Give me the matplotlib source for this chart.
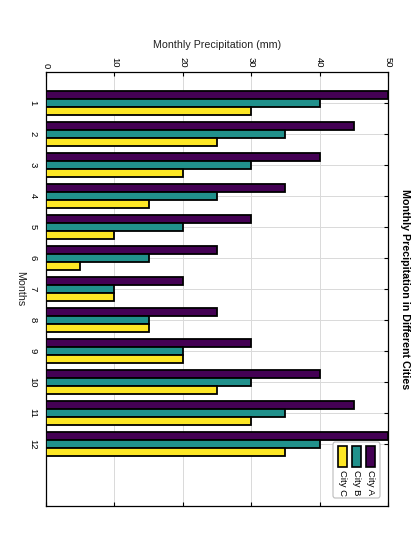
import numpy as np
import matplotlib
matplotlib.use("Agg")
import matplotlib.pyplot as plt
from matplotlib.patches import Rectangle, FancyBboxPatch

plt.rcParams['font.family'] = ['Liberation Sans', 'DejaVu Sans']

# data
months = [1, 2, 3, 4, 5, 6, 7, 8, 9, 10, 11, 12]
city_a = [50, 45, 40, 35, 30, 25, 20, 25, 30, 40, 45, 50]
city_b = [40, 35, 30, 25, 20, 15, 10, 15, 20, 30, 35, 40]
city_c = [30, 25, 20, 15, 10, 5, 10, 15, 20, 25, 30, 35]
cities = ["City A", "City B", "City C"]
colors = ["#440154", "#21918c", "#fde725"]
x_ticks = [0, 10, 20, 30, 40, 50]

fig = plt.figure(figsize=(4.2, 5.47), dpi=100)
ax = fig.add_axes([46/420, 1-506/547, 342/420, 434/547])

ypos = np.array(months)
h = 0.25
for i, (vals, col) in enumerate(zip([city_a, city_b, city_c], colors)):
    ax.barh(ypos + (i-1)*h, vals, height=h, color=col, edgecolor="black",
            linewidth=1.3, zorder=3)

ax.set_xlim(0, 50)
ax.set_ylim(14, 0)
ax.set_xticks(x_ticks)
ax.set_yticks(months)
ax.grid(True, color="#d9d9d9", linewidth=0.7, zorder=0)
ax.set_axisbelow(True)

ax.xaxis.tick_top()
ax.tick_params(axis="x", which="both", top=True, bottom=True, direction="in",
               length=3, pad=3, labelsize=6.8)
ax.tick_params(axis="y", which="both", left=True, right=True, direction="in",
               length=3, pad=6, labelsize=6.8)
for lab in ax.get_xticklabels():
    lab.set_rotation(-90)
    lab.set_ha("center")
    lab.set_va("bottom")
for lab in ax.get_yticklabels():
    lab.set_rotation(-90)
    lab.set_ha("right")
    lab.set_va("center")
for sp in ax.spines.values():
    sp.set_linewidth(0.9)

ax.set_xlabel("Monthly Precipitation (mm)", fontsize=7.7, color="#222222")
ax.xaxis.set_label_position("top")
ax.xaxis.set_label_coords(0.5, 1 + (72-45)/434)
ax.xaxis.label.set_va("center")

ax.set_ylabel("Months", fontsize=7.7, rotation=-90, color="#222222")
ax.yaxis.set_label_coords((20-46)/342, 0.5)
ax.yaxis.label.set_va("center")
ax.yaxis.label.set_ha("center")

ax.text((405-46)/342, 0.5, "Monthly Precipitation in Different Cities",
        transform=ax.transAxes, rotation=-90, ha="center", va="center",
        fontsize=7.7, fontweight="bold")

# legend, drawn rotated like the rest of the text
lx0, lx1 = (333-46)/342, (380-46)/342
ly0, ly1 = (506-498)/434, (506-442)/434
frame = FancyBboxPatch((lx0, ly0), lx1-lx0, ly1-ly0, transform=ax.transAxes,
                       boxstyle="round,pad=0,rounding_size=0.006",
                       facecolor="white", edgecolor="#bbbbbb", linewidth=0.8,
                       zorder=5)
ax.add_patch(frame)
patch_x = [366, 352, 338]
pw = 9/342
py0, py1 = (506-467)/434, (506-446)/434
for name, col, px in zip(cities, colors, patch_x):
    xa = (px-46)/342
    ax.add_patch(Rectangle((xa, py0), pw, py1-py0, transform=ax.transAxes,
                           facecolor=col, edgecolor="black", linewidth=1.2,
                           zorder=6))
    ax.text(xa + pw/2, (506-470)/434, name, transform=ax.transAxes,
            rotation=-90, ha="center", va="top", fontsize=6.8, zorder=6)

fig.savefig("out.png", dpi=100)
